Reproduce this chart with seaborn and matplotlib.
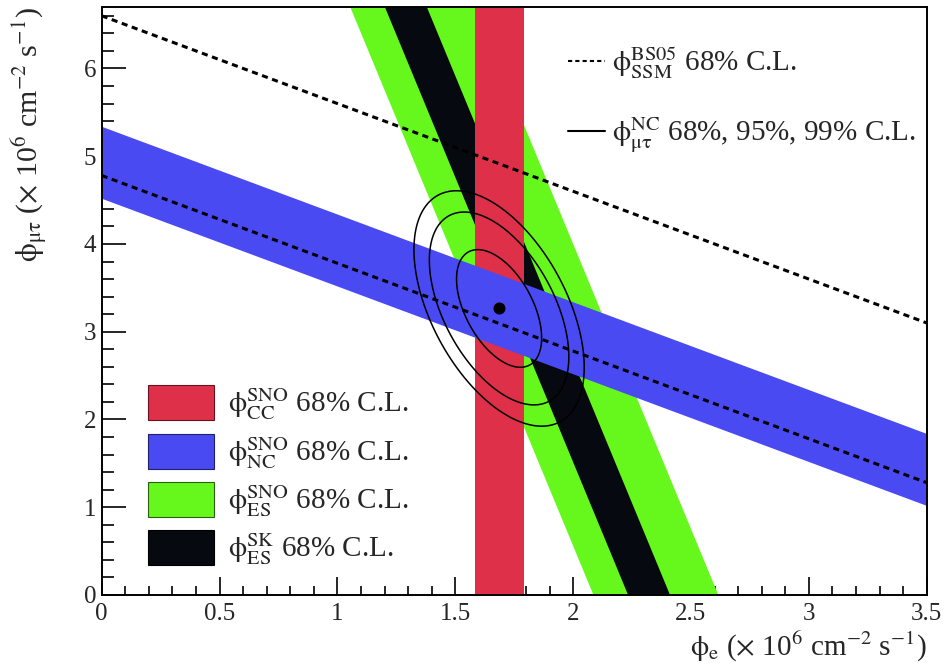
import numpy as np
import matplotlib
matplotlib.use('Agg')
import matplotlib.pyplot as plt
import seaborn as sns
from matplotlib.patches import Patch
from matplotlib.lines import Line2D

# band limits, units of 10^6 cm^-2 s^-1
cc_band = [1.585, 1.79]          # phi_e
nc_band = [4.52, 5.34]           # phi_e + phi_mt
es_sno_band = [2.085, 2.615]     # phi_e + 0.154 phi_mt
es_sk_band = [2.232, 2.41]       # phi_e + 0.154 phi_mt
ssm_band = [4.78, 6.60]          # phi_e + phi_mt (dashed)
es_weight = 0.154

# best fit point and its error ellipse
best_fit = [1.686, 3.265]
sigma_e, sigma_mt, rho = 0.119, 0.442, -0.5
dchi2_levels = [2.30, 6.18, 9.21]   # 68%, 95%, 99% C.L. for 2 dof

x_ticks = [0, 0.5, 1, 1.5, 2, 2.5, 3, 3.5]
y_ticks = [0, 1, 2, 3, 4, 5, 6]
x_max, y_max = 3.5, 6.7

col_cc = '#df3049'
col_nc = '#4a4af2'
col_es = '#66f81c'
col_sk = '#060a10'

sns.set_style('ticks')
plt.rcParams['font.family'] = ['Liberation Serif', 'DejaVu Serif']
plt.rcParams['mathtext.fontset'] = 'stix'
plt.rcParams['mathtext.default'] = 'rm'

fig = plt.figure(figsize=(9.45, 6.63), dpi=100)
ax = fig.add_axes([0.1076, 0.1026, 0.8730, 0.8868])

yy = np.linspace(0, y_max, 50)
xx = np.linspace(0, x_max, 50)

# ES bands: phi_e + w * phi_mt = const
ax.fill_betweenx(yy, es_sno_band[0] - es_weight * yy, es_sno_band[1] - es_weight * yy,
                 color=col_es, lw=0)
ax.fill_betweenx(yy, es_sk_band[0] - es_weight * yy, es_sk_band[1] - es_weight * yy,
                 color=col_sk, lw=0)
# CC band
ax.axvspan(cc_band[0], cc_band[1], color=col_cc, lw=0)
# NC band
ax.fill_between(xx, nc_band[0] - xx, nc_band[1] - xx, color=col_nc, lw=0)

# SSM dashed lines
for c in ssm_band:
    ax.plot(xx, c - xx, color='black', lw=2.2, dashes=(2, 1.5))

# contours around best fit
gx, gy = np.meshgrid(np.linspace(1.0, 2.4, 300), np.linspace(1.0, 5.5, 300))
u = (gx - best_fit[0]) / sigma_e
v = (gy - best_fit[1]) / sigma_mt
chi2 = (u**2 - 2 * rho * u * v + v**2) / (1 - rho**2)
ax.contour(gx, gy, chi2, levels=dchi2_levels, colors='black', linewidths=1.1)
sns.scatterplot(x=[best_fit[0]], y=[best_fit[1]], color='black', s=75, linewidth=0,
                ax=ax, zorder=5)

ax.set_xlim(0, x_max)
ax.set_ylim(0, y_max)
ax.set_xticks(x_ticks)
ax.set_xticklabels(['0', '0.5', '1', '1.5', '2', '2.5', '3', '3.5'])
ax.set_yticks(y_ticks)
ax.xaxis.set_minor_locator(matplotlib.ticker.MultipleLocator(0.1))
ax.yaxis.set_minor_locator(matplotlib.ticker.MultipleLocator(0.2))
ax.tick_params(axis='both', which='both', direction='in', width=1.4, labelsize=18,
               top=False, right=False)
ax.tick_params(axis='x', which='major', length=13, pad=6)
ax.tick_params(axis='x', which='minor', length=6.5)
ax.tick_params(axis='y', which='major', length=17.5, pad=4)
ax.tick_params(axis='y', which='minor', length=8.8)
for s in ax.spines.values():
    s.set_linewidth(1.4)
    s.set_color('black')

ax.set_xlabel(r'$\phi_{e}$ ($\times$ 10$^{6}$ cm$^{-2}$ s$^{-1}$)', fontsize=21, loc='right')
ax.set_ylabel(r'$\phi_{\mu\tau}$ ($\times$ 10$^{6}$ cm$^{-2}$ s$^{-1}$)', fontsize=21.5, loc='top')
ax.xaxis.set_label_coords(1.0, -0.06)
ax.yaxis.set_label_coords(-0.063, 1.0)

band_handles = [Patch(facecolor=col_cc, edgecolor='#6a1020', lw=0.8),
                Patch(facecolor=col_nc, edgecolor='#202070', lw=0.8),
                Patch(facecolor=col_es, edgecolor='#2a6010', lw=0.8),
                Patch(facecolor=col_sk, edgecolor='black', lw=0.8)]
band_labels = [r'$\phi^{SNO}_{CC}$ 68% C.L.', r'$\phi^{SNO}_{NC}$ 68% C.L.',
               r'$\phi^{SNO}_{ES}$ 68% C.L.', r'$\phi^{SK}_{ES}$ 68% C.L.']
leg1 = ax.legend(band_handles, band_labels, loc='lower left', bbox_to_anchor=(0.056, 0.047),
                 frameon=False, fontsize=21, handlelength=2.26, handleheight=1.47,
                 handletextpad=0.48, labelspacing=0.39, borderpad=0, borderaxespad=0)
ax.add_artist(leg1)

line_handles = [Line2D([], [], color='black', lw=1.5, dashes=(2, 1.5)),
                Line2D([], [], color='black', lw=1.5)]
line_labels = [r'$\phi^{BS05}_{SSM}$ 68% C.L.', r'$\phi^{NC}_{\mu\tau}$ 68%, 95%, 99% C.L.']
ax.legend(line_handles, line_labels, loc='upper left', bbox_to_anchor=(0.565, 0.935),
          frameon=False, fontsize=21, handlelength=1.27, handletextpad=0.24,
          labelspacing=1.17, borderpad=0, borderaxespad=0)

plt.savefig('out.png', dpi=100)
